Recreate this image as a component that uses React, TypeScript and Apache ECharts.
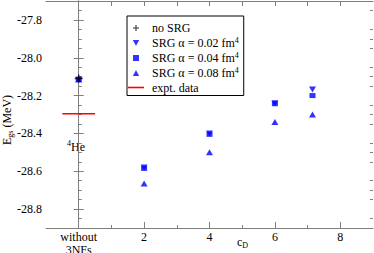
import React, { useEffect, useRef } from 'react';
import * as echarts from 'echarts';

const xMajorTicks = [0, 2, 4, 6, 8];
const xMinorTicks = [1, 3, 5, 7];
const xTopTicks = [0, 1, 2, 3, 4, 5, 6, 7, 8];
const xTickLabels: Record<string, string> = { '0': 'without\n3NFs', '2': '2', '4': '4', '6': '6', '8': '8' };
const yMajorTicks = [-28.8, -28.6, -28.4, -28.2, -28.0, -27.8];
const yMinorTicks = [-28.85, -28.75, -28.7, -28.65, -28.55, -28.5, -28.45, -28.35, -28.3, -28.25, -28.15, -28.1, -28.05, -27.95, -27.9, -27.85, -27.75];

const noSRG = [[0, -28.11]];
const srg002 = [[0, -28.115], [2, -28.58], [4, -28.40], [6, -28.24], [7.15, -28.168]];
const srg004 = [[0, -28.115], [2, -28.585], [4, -28.405], [6, -28.243], [7.15, -28.20]];
const srg008 = [[0, -28.115], [2, -28.665], [4, -28.50], [6, -28.34], [7.15, -28.30]];
const expt = [[-0.5, -28.296], [0.5, -28.296]];

const seriesNames = ['no SRG', 'SRG α = 0.02 fm4', 'SRG α = 0.04 fm4', 'SRG α = 0.08 fm4', 'expt. data'];

const FONT = 'Liberation Serif';
const AXIS_COLOR = '#7f7f7f';
const BLUE = '#0000ff';
const PLUS = 'path://M-1,-0.18H-0.18V-1H0.18V-0.18H1V0.18H0.18V1H-0.18V0.18H-1Z';
const TRI_UP = 'path://M0,-1L1,0.9H-1Z';
const TRI_DOWN = 'path://M0,1L1,-0.9H-1Z';
const SQUARE = 'path://M-1,-1H1V1H-1Z';
const DASH = 'path://M0,0H16V1.6H0Z';

export default function App() {
  const ref = useRef<HTMLDivElement>(null);
  useEffect(() => {
    if (!ref.current) return;
    const chart = echarts.init(ref.current, null, { renderer: 'svg' });
    const xBase = { type: 'value', min: -1, max: 9, splitLine: { show: false } };
    const yBase = { type: 'value', min: -28.9, max: -27.7, splitLine: { show: false } };
    const lineStyle = { color: AXIS_COLOR, width: 1 };
    chart.setOption({
      animation: false,
      textStyle: { fontFamily: FONT },
      grid: { left: 46, right: 1, top: 1, bottom: 25, containLabel: false, outerBoundsMode: 'none' },
      xAxis: [
        {
          ...xBase, position: 'bottom',
          axisLine: { show: true, lineStyle },
          axisTick: { show: true, inside: true, length: 6, customValues: xMajorTicks, lineStyle },
          axisLabel: {
            show: true, customValues: xMajorTicks, margin: 2, color: '#000', fontFamily: FONT, fontSize: 12, lineHeight: 13,
            formatter: (v: number) => xTickLabels[String(v)] ?? '',
          },
        },
        {
          ...xBase, position: 'bottom',
          axisLine: { show: false },
          axisTick: { show: true, inside: true, length: 3, customValues: xMinorTicks, lineStyle },
          axisLabel: { show: false },
        },
        {
          ...xBase, position: 'top',
          axisLine: { show: true, lineStyle },
          axisTick: { show: true, inside: true, length: 5, customValues: xTopTicks, lineStyle },
          axisLabel: { show: false },
        },
      ],
      yAxis: [
        {
          ...yBase, position: 'left',
          axisLine: { show: true, lineStyle },
          axisTick: { show: true, inside: true, length: 5, customValues: yMajorTicks, lineStyle },
          axisLabel: {
            show: true, customValues: yMajorTicks, margin: 4, color: '#000', fontFamily: FONT, fontSize: 12,
            formatter: (v: number) => v.toFixed(1),
          },
        },
        {
          ...yBase, position: 'left',
          axisLine: { show: false },
          axisTick: { show: true, inside: true, length: 3, customValues: yMinorTicks, lineStyle },
          axisLabel: { show: false },
        },
        {
          ...yBase, position: 'right',
          axisLine: { show: true, lineStyle },
          axisTick: { show: true, inside: true, length: 5, customValues: yMajorTicks, lineStyle },
          axisLabel: { show: false },
        },
        {
          ...yBase, position: 'right',
          axisLine: { show: false },
          axisTick: { show: true, inside: true, length: 3, customValues: yMinorTicks, lineStyle },
          axisLabel: { show: false },
        },
      ],
      legend: {
        orient: 'vertical',
        left: 127, top: 16,
        backgroundColor: '#fff',
        borderColor: '#000', borderWidth: 1,
        padding: [6, 5, 2, 1],
        itemGap: 2.5,
        itemWidth: 16, itemHeight: 6,
        symbolKeepAspect: true,
        data: [
          { name: seriesNames[0], icon: PLUS, itemStyle: { color: '#000' } },
          { name: seriesNames[1], icon: TRI_DOWN, itemStyle: { color: BLUE } },
          { name: seriesNames[2], icon: SQUARE, itemStyle: { color: BLUE } },
          { name: seriesNames[3], icon: TRI_UP, itemStyle: { color: BLUE } },
          { name: seriesNames[4], icon: DASH, itemStyle: { color: '#ff0000' } },
        ],
        formatter: (name: string) => {
          if (name.endsWith('fm4')) return '{a|' + name.slice(0, -1) + '}{sup|4}';
          return '{a|' + name + '}';
        },
        textStyle: {
          fontFamily: FONT, fontSize: 12, color: '#000',
          rich: {
            a: { fontFamily: FONT, fontSize: 12, color: '#000', lineHeight: 13, padding: [0, 0, 0, 3] },
            sup: { fontFamily: FONT, fontSize: 8, color: '#000', verticalAlign: 'top', padding: [0, 0, 5, 0] },
          },
        },
      },
      graphic: [
        {
          type: 'text', x: 7, y: 120, rotation: Math.PI / 2,
          style: {
            text: '{a|E}{sub|gs}{a| (MeV)}',
            align: 'center', verticalAlign: 'middle',
            rich: {
              a: { fontFamily: FONT, fontSize: 12, fill: '#000' },
              sub: { fontFamily: FONT, fontSize: 8, fill: '#000', padding: [6, 0, 0, 0] },
            },
          },
        },
        {
          type: 'text', left: 67, top: 139,
          style: {
            text: '{sup|4}{a|He}',
            rich: {
              a: { fontFamily: FONT, fontSize: 12, fill: '#000' },
              sup: { fontFamily: FONT, fontSize: 8, fill: '#000', padding: [0, 0, 7, 0] },
            },
          },
        },
        {
          type: 'text', left: 237, top: 236,
          style: {
            text: '{a|c}{sub|D}',
            rich: {
              a: { fontFamily: FONT, fontSize: 12, fill: '#000' },
              sub: { fontFamily: FONT, fontSize: 8, fill: '#000', padding: [7, 0, 0, 0] },
            },
          },
        },
      ],
      series: [
        {
          name: seriesNames[4], type: 'line', data: expt, symbol: 'none',
          lineStyle: { color: '#ff0000', width: 1.5 }, itemStyle: { color: '#ff0000' }, z: 2,
        },
        {
          name: seriesNames[3], type: 'scatter', data: srg008, symbol: 'triangle', symbolSize: [7, 6],
          itemStyle: { color: BLUE }, z: 3,
        },
        {
          name: seriesNames[2], type: 'scatter', data: srg004, symbol: 'rect', symbolSize: [6, 5],
          itemStyle: { color: BLUE }, z: 3,
        },
        {
          name: seriesNames[1], type: 'scatter', data: srg002, symbol: 'triangle', symbolRotate: 180, symbolSize: [7, 6],
          itemStyle: { color: BLUE }, z: 3,
        },
        {
          name: seriesNames[0], type: 'scatter', data: noSRG, symbol: PLUS, symbolSize: 8,
          itemStyle: { color: '#000' }, z: 4,
        },
      ],
    });
    return () => chart.dispose();
  }, []);
  return <div ref={ref} style={{ position: 'absolute', left: 0, top: 0, width: 374, height: 253 }} />;
}
